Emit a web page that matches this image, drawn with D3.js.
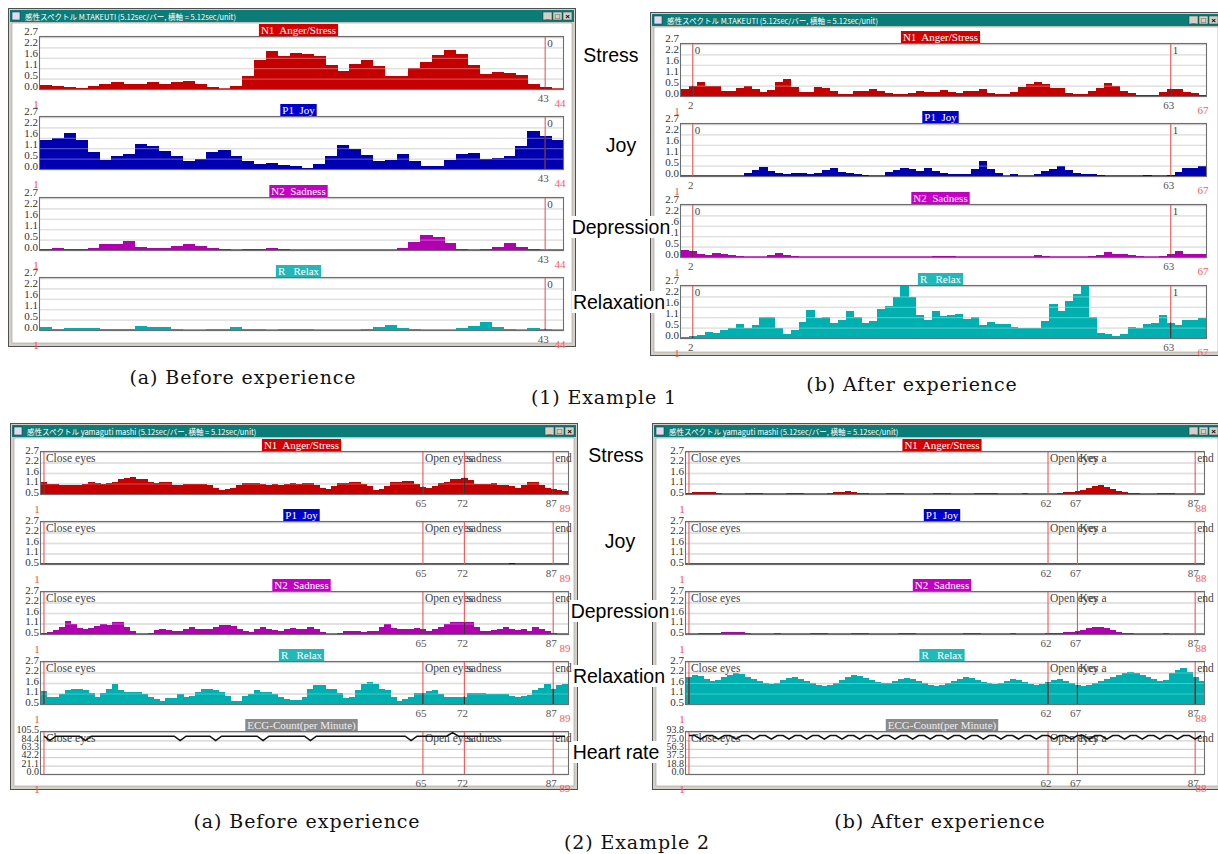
<!DOCTYPE html>
<html>
<head>
<meta charset="utf-8">
<script src="https://cdn.jsdelivr.net/npm/d3@7"></script>
<style>
  body { margin: 0; background: #fff; }
  svg { display: block; }
</style>
</head>
<body>
<svg id="chart" width="1218" height="854"></svg>
<script>
// ---- data ----
const seriesNames = ['N1  Anger/Stress', 'P1  Joy', 'N2  Sadness', 'R   Relax', 'ECG-Count(per Minute)'];
const outerLabels = ['Stress', 'Joy', 'Depression', 'Relaxation', 'Heart rate'];

// y axis ticks (value, label)
const yTicksTop = [0, 0.54, 1.08, 1.62, 2.16, 2.7];
const yLabelsTop = ['0.0', '0.5', '1.1', '1.6', '2.2', '2.7'];
const yTicksBottom = [0.5, 1.05, 1.6, 2.15, 2.7];
const yLabelsBottom = ['0.5', '1.1', '1.6', '2.2', '2.7'];
const ecgTicksLeft = [0, 21.1, 42.2, 63.3, 84.4, 105.5];
const ecgLabelsLeft = ['0.0', '21.1', '42.2', '63.3', '84.4', '105.5'];
const ecgTicksRight = [0, 18.76, 37.52, 56.28, 75.04, 93.8];
const ecgLabelsRight = ['0.0', '18.8', '37.5', '56.3', '75.0', '93.8'];

// Example 1, before (44 bars)
const ex1BeforeStress = [0.23,0.18,0.1,0.07,0.16,0.28,0.35,0.25,0.28,0.35,0.28,0.38,0.44,0.28,0.1,0.02,0.18,0.68,1.52,1.95,1.7,1.87,1.84,1.7,1.26,0.95,1.3,1.49,1.21,0.68,0.68,1.07,1.4,1.75,2.02,1.84,1.26,0.79,0.86,0.82,0.74,0.28,0.1,0];
const ex1BeforeJoy = [1.48,1.61,1.86,1.49,0.89,0.49,0.65,0.8,1.31,1.22,0.92,0.7,0.44,0.52,0.87,0.97,0.65,0.39,0.25,0.29,0.23,0.14,0.07,0.27,0.65,1.27,1.06,0.72,0.44,0.47,0.8,0.4,0.18,0.18,0.47,0.8,0.85,0.52,0.57,0.65,1.17,1.95,1.69,1.53];
const ex1BeforeSad = [0.03,0.1,0.03,0.03,0.12,0.33,0.33,0.47,0.17,0.09,0.09,0.19,0.33,0.22,0.12,0.03,0,0.03,0.03,0.12,0.03,0.02,0,0,0,0,0,0,0,0,0.1,0.41,0.79,0.7,0.36,0.05,0,0.03,0.14,0.38,0.17,0.07,0,0];
const ex1BeforeRelax = [0.17,0.07,0.08,0.08,0.1,0.05,0.03,0.05,0.22,0.15,0.17,0.07,0.02,0.02,0.05,0.07,0.17,0.07,0.03,0.02,0.07,0.05,0.03,0.02,0.02,0.02,0.02,0.07,0.13,0.25,0.1,0.03,0,0.02,0.02,0.1,0.2,0.41,0.17,0.07,0.02,0.1,0.07,0];
const ex1BeforeMarks = [43];
const ex1BeforeMarkTags = ['0'];
const ex1BeforeXLabels = [43];

// Example 1, after (67 bars)
const ex1AfterStress = [0.37,0.52,0.71,0.52,0.52,0.28,0.28,0.4,0.52,0.37,0.23,0.31,0.75,0.87,0.45,0.23,0.23,0.49,0.4,0.26,0.1,0.09,0.24,0.28,0.37,0.26,0.16,0.1,0.09,0.17,0.28,0.23,0.19,0.31,0.23,0.17,0.26,0.26,0.37,0.17,0.09,0.09,0.23,0.49,0.63,0.71,0.63,0.4,0.4,0.16,0.09,0.09,0.24,0.4,0.66,0.54,0.26,0.17,0.03,0.03,0.03,0.23,0.37,0.37,0.23,0.14,0.03];
const ex1AfterJoy = [0,0,0,0,0,0,0,0,0.17,0.3,0.47,0.25,0.13,0.08,0.13,0.17,0.08,0.17,0.3,0.39,0.2,0.17,0.08,0.05,0,0,0.2,0.3,0.39,0.34,0.25,0.39,0.25,0.17,0.12,0.08,0.12,0.34,0.76,0.37,0.13,0,0.08,0,0,0.12,0.25,0.37,0.54,0.3,0.17,0.08,0.08,0.05,0,0,0,0,0,0.05,0,0,0.05,0.2,0.39,0.42,0.51];
const ex1AfterSad = [0.38,0.33,0.14,0.1,0.21,0.14,0.09,0.03,0.02,0.02,0.02,0.09,0.22,0.12,0.03,0,0,0,0,0,0,0,0,0,0,0,0,0,0.02,0.02,0.02,0.02,0.03,0.07,0.03,0,0,0,0,0,0,0,0,0,0.02,0.09,0.03,0.02,0,0,0,0.02,0.05,0.12,0.26,0.15,0.14,0.09,0.03,0.02,0.02,0.05,0.14,0.29,0.15,0.14,0.14];
const ex1AfterRelax = [0.03,0.09,0.14,0.31,0.28,0.44,0.52,0.73,0.52,0.66,1.1,1.1,0.52,0.19,0.4,0.84,1.43,1.06,1.08,0.78,0.92,1.39,1.1,0.78,0.87,1.53,1.66,2.14,2.7,2.14,1.22,0.92,1.41,1.13,1.18,1.24,1.01,1.1,0.7,0.84,0.75,0.75,0.57,0.54,0.54,0.54,0.89,1.76,1.41,1.93,2.28,2.7,1.1,0.26,0.19,0.1,0.23,0.57,0.52,0.71,0.78,1.18,0.8,0.7,0.92,0.96,1.03];
const ex1AfterMarks = [2, 63];
const ex1AfterMarkTags = ['0', '1'];
const ex1AfterXLabels = [2, 63];

// Example 2, before (89 bars)
const ex2BeforeStress = [1.12,1.03,1.01,0.96,0.96,0.96,0.96,1.05,1.12,1.06,1.03,1.06,1.13,1.31,1.34,1.38,1.31,1.29,1.13,1.06,1.15,1.12,0.96,0.96,1.03,1.03,1.05,1.05,0.96,0.83,0.73,0.76,0.8,0.96,1.1,1.1,1.1,1.03,0.96,1.03,0.96,1.01,1.06,1.01,1.06,1.06,0.96,0.83,0.76,0.92,1.1,1.1,1.13,1.13,1.03,0.92,0.71,0.76,0.92,1.12,1.12,1.19,1.19,1.01,0.89,0.83,0.92,1.06,1.15,1.26,1.26,1.36,1.24,1.03,1.03,1.03,1.06,0.96,0.96,0.92,0.8,0.96,1.12,1.12,0.96,0.8,0.76,0.71,0.64];
const ex2BeforeJoy = [0.5,0.5,0.5,0.5,0.5,0.5,0.5,0.5,0.5,0.5,0.5,0.5,0.5,0.5,0.5,0.5,0.5,0.5,0.5,0.5,0.5,0.5,0.5,0.5,0.5,0.5,0.5,0.5,0.5,0.5,0.5,0.5,0.5,0.5,0.5,0.5,0.5,0.5,0.5,0.5,0.5,0.5,0.5,0.5,0.5,0.5,0.5,0.5,0.5,0.5,0.5,0.5,0.5,0.5,0.5,0.5,0.5,0.5,0.5,0.5,0.5,0.5,0.5,0.5,0.5,0.5,0.5,0.5,0.5,0.5,0.5,0.5,0.5,0.5,0.5,0.5,0.5,0.5,0.51,0.53,0.51,0.5,0.5,0.5,0.5,0.5,0.5,0.5,0.5];
const ex2BeforeSad = [0.55,0.59,0.71,0.85,1.17,1.03,0.82,0.77,0.82,0.94,1.0,0.96,1.12,1.15,0.89,0.64,0.5,0.5,0.57,0.71,0.75,0.71,0.64,0.68,0.77,0.85,0.77,0.77,0.77,0.89,0.98,0.98,0.94,0.77,0.64,0.59,0.75,0.85,0.78,0.71,0.68,0.77,0.82,0.77,0.77,0.85,0.77,0.62,0.5,0.5,0.57,0.64,0.68,0.64,0.59,0.68,0.68,0.85,1.0,0.82,0.77,0.77,0.78,0.82,0.75,0.68,0.77,0.85,1.03,1.15,1.12,1.12,1.12,0.85,0.68,0.64,0.71,0.75,0.85,0.77,0.71,0.77,0.68,0.85,0.77,0.64,0.54,0.5,0.5];
const ex2BeforeRelax = [1.17,0.87,0.87,1.0,1.21,1.26,1.3,1.21,1.08,0.85,1.06,1.3,1.56,1.24,1.12,1.15,1.12,1.0,0.85,0.76,0.68,0.8,0.8,1.0,0.85,0.94,1.15,1.26,1.3,1.21,1.12,0.9,0.68,0.68,0.9,1.03,1.21,1.15,1.15,1.0,0.85,0.76,0.71,0.71,0.85,1.3,1.47,1.51,1.3,1.3,1.06,0.82,0.85,1.21,1.56,1.66,1.56,1.3,1.21,0.85,0.64,0.76,0.85,1.06,1.06,1.17,1.24,1.03,0.85,0.85,0.85,0.89,1.08,1.08,1.08,1.03,1.03,1.03,1.0,0.9,0.89,0.9,0.98,1.21,1.35,1.56,1.3,1.51,1.56];
const ex2BeforeEcg = [95,84,95,95,95,95,95,84,95,95,95,95,95,95,95,95,95,95,95,95,95,95,95,84,95,95,95,95,95,84,95,95,95,95,95,95,95,84,95,95,95,95,95,95,95,84,95,95,95,95,95,95,95,95,95,95,95,95,95,95,95,95,84,95,95,95,95,95,95,104,95,95,95,95,95,95,95,95,95,95,95,95,95,95,95,95,95,95,95];
const ex2BeforeMarks = [1, 65, 72, 87];
const ex2BeforeMarkTags = ['Close eyes', 'Open eyes', 'sadness', 'end'];
const ex2BeforeXLabels = [65, 72, 87];

// Example 2, after (88 bars)
const ex2AfterStress = [0.55,0.58,0.6,0.62,0.6,0.55,0.52,0.5,0.5,0.52,0.55,0.55,0.53,0.52,0.5,0.5,0.52,0.55,0.56,0.55,0.52,0.5,0.5,0.52,0.55,0.6,0.62,0.64,0.6,0.56,0.53,0.5,0.5,0.52,0.54,0.55,0.55,0.52,0.5,0.5,0.5,0.52,0.55,0.56,0.55,0.52,0.5,0.5,0.52,0.55,0.56,0.55,0.53,0.52,0.5,0.5,0.52,0.53,0.52,0.5,0.5,0.5,0.52,0.55,0.6,0.62,0.65,0.7,0.8,0.92,0.95,0.88,0.75,0.65,0.58,0.55,0.53,0.5,0.5,0.52,0.55,0.55,0.53,0.52,0.5,0.5,0.5,0.5];
const ex2AfterJoy = [0.5,0.5,0.5,0.5,0.5,0.5,0.5,0.5,0.5,0.5,0.5,0.5,0.5,0.5,0.5,0.5,0.5,0.5,0.5,0.5,0.5,0.5,0.5,0.5,0.5,0.5,0.5,0.5,0.5,0.5,0.5,0.5,0.5,0.5,0.5,0.5,0.5,0.5,0.5,0.5,0.5,0.5,0.5,0.5,0.5,0.5,0.5,0.5,0.5,0.5,0.5,0.5,0.5,0.5,0.5,0.5,0.5,0.5,0.5,0.5,0.5,0.5,0.5,0.5,0.5,0.5,0.5,0.5,0.5,0.5,0.5,0.5,0.5,0.5,0.5,0.5,0.5,0.5,0.5,0.5,0.5,0.5,0.5,0.5,0.5,0.5,0.5,0.5];
const ex2AfterSad = [0.52,0.52,0.53,0.55,0.55,0.56,0.58,0.6,0.62,0.58,0.55,0.52,0.5,0.5,0.52,0.53,0.52,0.5,0.5,0.5,0.52,0.53,0.55,0.53,0.52,0.5,0.5,0.52,0.55,0.56,0.55,0.52,0.5,0.5,0.5,0.52,0.53,0.55,0.53,0.52,0.5,0.5,0.52,0.52,0.5,0.5,0.52,0.55,0.56,0.55,0.52,0.5,0.5,0.5,0.52,0.53,0.52,0.5,0.5,0.5,0.52,0.53,0.55,0.56,0.58,0.6,0.65,0.72,0.8,0.85,0.86,0.8,0.7,0.62,0.56,0.53,0.52,0.5,0.5,0.5,0.52,0.53,0.52,0.5,0.5,0.5,0.5,0.5];
const ex2AfterRelax = [1.9,2.0,1.95,1.8,1.7,1.75,1.9,2.0,2.1,2.05,1.9,1.8,1.7,1.6,1.55,1.6,1.75,1.85,1.9,1.8,1.7,1.6,1.5,1.45,1.5,1.6,1.75,1.9,2.0,1.95,1.85,1.75,1.65,1.6,1.6,1.7,1.8,1.85,1.8,1.7,1.6,1.5,1.45,1.5,1.6,1.7,1.8,1.9,1.85,1.75,1.65,1.6,1.55,1.6,1.7,1.8,1.75,1.65,1.55,1.5,1.55,1.65,1.75,1.8,1.7,1.6,1.5,1.45,1.5,1.6,1.7,1.8,1.9,2.0,2.1,2.2,2.15,2.0,1.9,1.8,1.7,1.75,2.1,2.3,2.4,2.2,1.9,1.7];
const ex2AfterEcg = [86,86,78,86,86,78,86,86,78,86,86,78,86,86,78,86,86,78,86,86,78,86,86,78,86,86,78,86,86,78,86,86,78,86,86,78,86,86,78,86,86,78,86,86,78,86,86,78,86,86,78,86,86,78,86,86,78,86,86,78,86,86,78,86,86,78,86,86,78,86,86,78,86,86,78,86,86,78,86,86,78,86,86,78,86,86,78,86];
const ex2AfterMarks = [1, 62, 67, 87];
const ex2AfterMarkTags = ['Close eyes', 'Open eyes', 'Key a', 'end'];
const ex2AfterXLabels = [62, 67, 87];

// ---- styles ----
const barColors = ['#c40000', '#0000b0', '#b000b0', '#00b0b0', '#000000'];
const tagColors = ['#d40000', '#0000d0', '#c400c4', '#22b8b8', '#8a8a8a'];
const serif = '"Liberation Serif", "DejaVu Serif", serif';
const sans = '"Liberation Sans", Arial, sans-serif';
const cjk = '"Noto Sans CJK JP", sans-serif';

const svg = d3.select('#chart');

const windows = [
  { x: 8, y: 8, w: 568, h: 339, title: '感性スペクトル   M.TAKEUTI  (5.12sec/バー,  横軸 = 5.12sec/unit)',
    x0: 40, x1: 563, tops: [37, 117, 198, 278], boxH: 52, n: 44, yDomain: [0, 2.7],
    ticks: yTicksTop, tickLabels: yLabelsTop, series: [ex1BeforeStress, ex1BeforeJoy, ex1BeforeSad, ex1BeforeRelax],
    marks: ex1BeforeMarks, markTags: ex1BeforeMarkTags, xLabels: ex1BeforeXLabels, endLabel: '44', small: true },
  { x: 650, y: 12, w: 572, h: 344, title: '感性スペクトル   M.TAKEUTI  (5.12sec/バー,  横軸 = 5.12sec/unit)',
    x0: 681, x1: 1206, tops: [44, 124, 205, 286], boxH: 52, n: 67, yDomain: [0, 2.7],
    ticks: yTicksTop, tickLabels: yLabelsTop, series: [ex1AfterStress, ex1AfterJoy, ex1AfterSad, ex1AfterRelax],
    marks: ex1AfterMarks, markTags: ex1AfterMarkTags, xLabels: ex1AfterXLabels, endLabel: '67', small: true },
  { x: 10, y: 423, w: 568, h: 367, title: '感性スペクトル   yamaguti mashi  (5.12sec/バー,  横軸 = 5.12sec/unit)',
    x0: 41, x1: 568, tops: [452, 522, 592, 662, 732], boxH: 42, n: 89, yDomain: [0.5, 2.7],
    ticks: yTicksBottom, tickLabels: yLabelsBottom, series: [ex2BeforeStress, ex2BeforeJoy, ex2BeforeSad, ex2BeforeRelax, ex2BeforeEcg],
    ecgDomain: [0, 105.5], ecgTicks: ecgTicksLeft, ecgLabels: ecgLabelsLeft,
    marks: ex2BeforeMarks, markTags: ex2BeforeMarkTags, xLabels: ex2BeforeXLabels, endLabel: '89', small: false },
  { x: 652, y: 423, w: 570, h: 367, title: '感性スペクトル   yamaguti mashi  (5.12sec/バー,  横軸 = 5.12sec/unit)',
    x0: 686, x1: 1204, tops: [452, 522, 592, 662, 732], boxH: 42, n: 88, yDomain: [0.5, 2.7],
    ticks: yTicksBottom, tickLabels: yLabelsBottom, series: [ex2AfterStress, ex2AfterJoy, ex2AfterSad, ex2AfterRelax, ex2AfterEcg],
    ecgDomain: [0, 93.8], ecgTicks: ecgTicksRight, ecgLabels: ecgLabelsRight,
    marks: ex2AfterMarks, markTags: ex2AfterMarkTags, xLabels: ex2AfterXLabels, endLabel: '88', small: false }
];

function drawChrome(win) {
  const g = svg.append('g');
  g.append('rect').attr('x', win.x + 0.5).attr('y', win.y + 0.5).attr('width', win.w - 1).attr('height', win.h - 1)
    .attr('fill', '#d4d0c8').attr('stroke', '#505050');
  g.append('rect').attr('x', win.x + 2).attr('y', win.y + 2).attr('width', win.w - 4).attr('height', 12).attr('fill', '#0c7c78');
  // little app icon
  g.append('rect').attr('x', win.x + 4).attr('y', win.y + 4).attr('width', 8).attr('height', 8).attr('fill', '#dde').attr('stroke', '#335').attr('stroke-width', 0.6);
  g.append('text').attr('x', win.x + 17).attr('y', win.y + 11.5).attr('fill', '#fff')
    .attr('font-family', cjk).attr('font-size', 7.5).text(win.title);
  ['_', '□', '×'].forEach((s, i) => {
    const bx = win.x + win.w - 33 + i * 10;
    g.append('rect').attr('x', bx).attr('y', win.y + 4).attr('width', 9).attr('height', 8)
      .attr('fill', '#d4d0c8').attr('stroke', '#333').attr('stroke-width', 0.5);
    g.append('text').attr('x', bx + 4.5).attr('y', win.y + 11).attr('text-anchor', 'middle')
      .attr('font-family', sans).attr('font-size', 8).attr('font-weight', 'bold').attr('fill', '#000').text(s);
  });
  g.append('rect').attr('x', win.x + 4).attr('y', win.y + 15).attr('width', win.w - 8).attr('height', win.h - 19)
    .attr('fill', '#fff').attr('stroke', '#9a9a9a').attr('stroke-width', 0.6);
}

function drawPanel(win, idx) {
  const g = svg.append('g');
  const values = win.series[idx];
  const isEcg = idx === 4;
  const top = win.tops[idx];
  const bottom = top + win.boxH;
  const x = d3.scaleLinear().domain([0, win.n]).range([win.x0, win.x1]);
  const domain = isEcg ? win.ecgDomain : win.yDomain;
  const y = d3.scaleLinear().domain(domain).range([bottom, top]);
  const ticks = isEcg ? win.ecgTicks : win.ticks;
  const labels = isEcg ? win.ecgLabels : win.tickLabels;
  const base = domain[0];

  // gridlines under the data
  g.append('g').attr('transform', `translate(${win.x0},0)`)
    .call(d3.axisLeft(y).tickValues(ticks).tickSize(-(win.x1 - win.x0)).tickFormat(''))
    .call(a => a.select('.domain').remove())
    .call(a => a.selectAll('line').attr('stroke', '#d2d2d2').attr('stroke-width', 1.3));

  if (!isEcg) {
    g.append('g').selectAll('rect').data(values).join('rect')
      .attr('x', (d, i) => x(i))
      .attr('width', (d, i) => x(i + 1) - x(i) + 0.4)
      .attr('y', d => y(Math.max(d, base)))
      .attr('height', d => y(base) - y(Math.max(d, base)))
      .attr('fill', barColors[idx])
      .attr('shape-rendering', 'crispEdges');
    // lighter gridlines over the bars
    g.append('g').attr('transform', `translate(${win.x0},0)`)
      .call(d3.axisLeft(y).tickValues(ticks.slice(1, -1)).tickSize(-(win.x1 - win.x0)).tickFormat(''))
      .call(a => a.select('.domain').remove())
      .call(a => a.selectAll('line').attr('stroke', '#fff').attr('stroke-opacity', 0.3).attr('stroke-width', 1.2));
    g.append('line').attr('x1', win.x0).attr('x2', win.x1).attr('y1', bottom - 0.5).attr('y2', bottom - 0.5)
      .attr('stroke', barColors[idx]).attr('stroke-opacity', 0.7);
  }

  // frame
  g.append('rect').attr('x', win.x0 - 0.5).attr('y', top - 0.5).attr('width', win.x1 - win.x0 + 1).attr('height', win.boxH + 1)
    .attr('fill', 'none').attr('stroke', '#6e6e6e').attr('stroke-width', 1.1);

  // markers: red on white, dark where they cross a bar
  win.marks.forEach((m, k) => {
    const mx = x(m - 0.5);
    g.append('line').attr('x1', mx).attr('x2', mx).attr('y1', top).attr('y2', bottom)
      .attr('stroke', '#ee5555').attr('stroke-width', 1.1);
    if (!isEcg) {
      const v = values[Math.min(values.length - 1, Math.max(0, m - 1))];
      if (v > base) {
        g.append('line').attr('x1', mx).attr('x2', mx).attr('y1', y(v)).attr('y2', bottom)
          .attr('stroke', '#3a2a2a').attr('stroke-width', 1.1);
      }
    }
    g.append('text').attr('x', mx + 2).attr('y', top + 10).attr('font-family', serif)
      .attr('font-size', win.small ? 11 : 11.5).attr('fill', '#444').text(win.markTags[k]);
  });

  if (isEcg) {
    const line = d3.line().x((d, i) => x(i + 0.5)).y(d => y(d));
    g.append('path').datum(values).attr('d', line).attr('fill', 'none')
      .attr('stroke', '#111').attr('stroke-width', 1.6);
  }

  // y tick labels
  g.append('g').attr('transform', `translate(${win.x0 - 2},0)`)
    .call(d3.axisLeft(y).tickValues(ticks).tickSize(0).tickPadding(0).tickFormat((d, i) => labels[i]))
    .call(a => a.select('.domain').remove())
    .call(a => a.selectAll('text').attr('font-family', serif).attr('font-size', isEcg ? 10 : 11)
      .attr('fill', '#333').attr('dy', (d, i) => (win.small ? -2 - 3 * i / (ticks.length - 1) : -1.5) + 'px')
      .attr('dominant-baseline', 'middle'));

  // series tag
  const cx = (win.x0 + win.x1) / 2 - 3;
  const tag = g.append('g');
  const tt = tag.append('text').attr('x', cx).attr('y', top - 3.5).attr('text-anchor', 'middle')
    .attr('font-family', serif).attr('font-size', 11).attr('fill', isEcg ? '#eee' : '#fff')
    .attr('xml:space', 'preserve').text(seriesNames[idx]);
  const tw = tt.node().getComputedTextLength();
  tag.insert('rect', 'text').attr('x', cx - tw / 2 - 2).attr('y', top - 13).attr('width', tw + 4).attr('height', 12)
    .attr('fill', tagColors[idx]);

  // x labels under the panel
  const lab = svg.append('g').attr('font-family', serif).attr('font-size', 11);
  lab.append('text').attr('x', win.x0 - 4).attr('y', bottom + 19).attr('text-anchor', 'middle')
    .attr('fill', '#ff4a4a').text('1');
  win.xLabels.forEach(v => {
    lab.append('text').attr('x', x(v - 0.5) - 2).attr('y', bottom + 13).attr('text-anchor', 'middle')
      .attr('fill', '#555').text(v);
  });
  lab.append('text').attr('x', win.x1 - 3).attr('y', bottom + 18).attr('text-anchor', 'middle')
    .attr('fill', '#ff5a5a').text(win.endLabel);
}

windows.forEach(win => {
  drawChrome(win);
  win.series.forEach((s, i) => drawPanel(win, i));
});

// outside labels between the windows
const outerTop = [[611, 55], [621, 145], [621, 227], [619, 302]];
const outerBottom = [[616, 455], [620, 541], [620, 611], [619, 676], [616, 752]];
function drawOuter(list) {
  list.forEach((p, i) => {
    const g = svg.append('g');
    const t = g.append('text').attr('x', p[0]).attr('y', p[1]).attr('text-anchor', 'middle')
      .attr('dominant-baseline', 'central').attr('font-family', sans).attr('font-size', 19.5)
      .attr('fill', '#000').text(outerLabels[i]);
    const bb = t.node().getBBox();
    g.insert('rect', 'text').attr('x', bb.x - 1).attr('y', bb.y).attr('width', bb.width + 2).attr('height', bb.height)
      .attr('fill', '#fff');
  });
}
drawOuter(outerTop);
drawOuter(outerBottom);

// captions
const captions = [
  ['(a) Before experience', 243, 377],
  ['(1) Example 1', 604, 397],
  ['(b) After experience', 912, 384],
  ['(a) Before experience', 307, 821],
  ['(2) Example 2', 637, 842],
  ['(b) After experience', 940, 821]
];
svg.append('g').selectAll('text').data(captions).join('text')
  .attr('x', d => d[1]).attr('y', d => d[2]).attr('text-anchor', 'middle').attr('dominant-baseline', 'central')
  .attr('font-family', '"DejaVu Serif", serif').attr('font-size', 19).attr('letter-spacing', 0.9).attr('fill', '#111')
  .text(d => d[0]);
</script>
</body>
</html>
